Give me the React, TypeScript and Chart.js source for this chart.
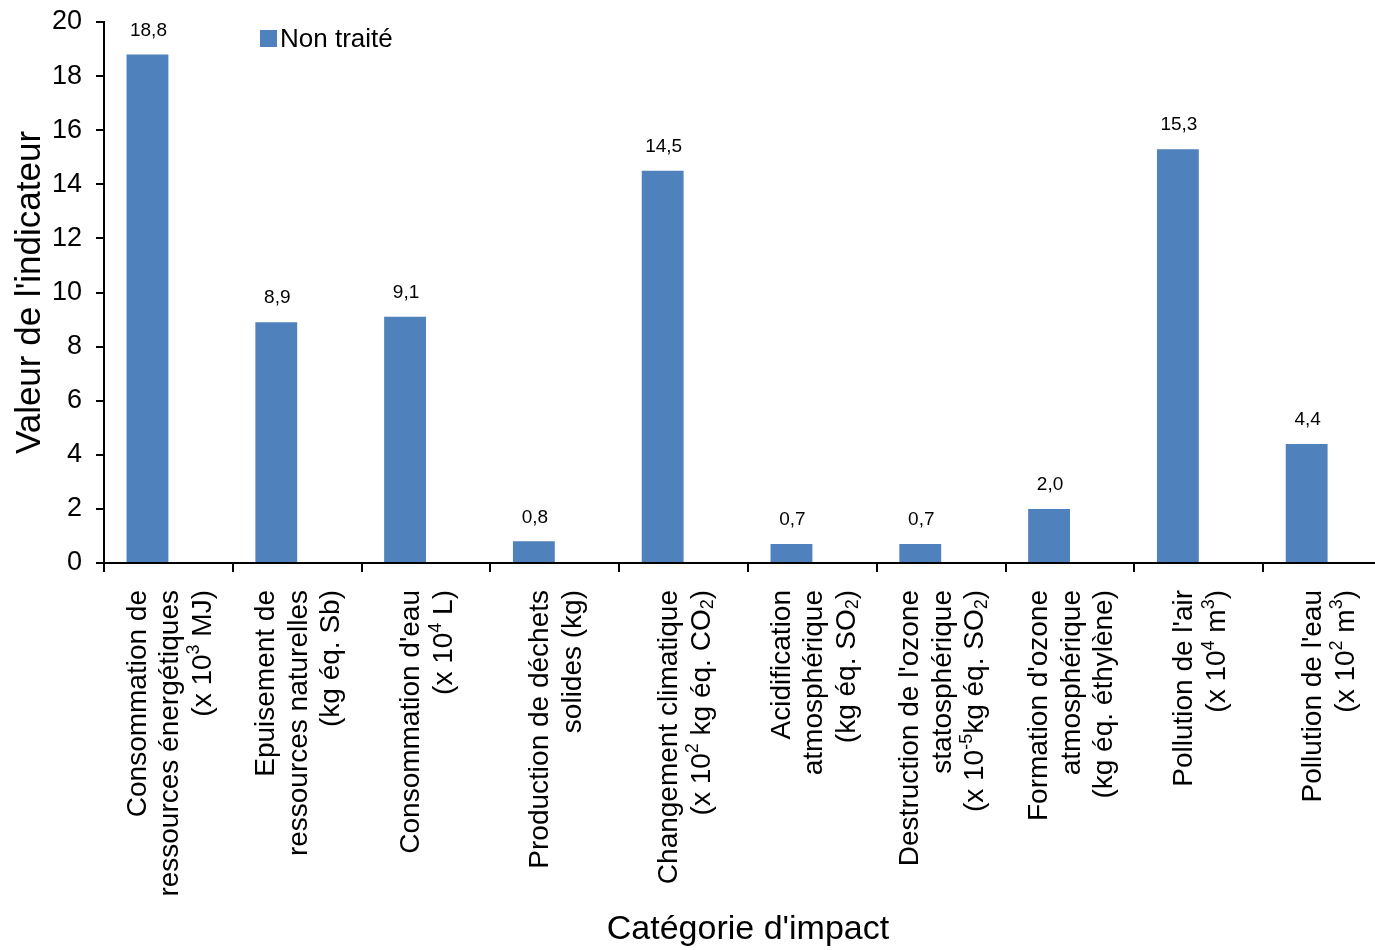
import { useEffect, useRef } from 'react';
import { Chart, registerables } from 'chart.js';

Chart.register(...registerables);

// Impact categories, one entry per bar; each entry lists the label lines.
// "^{..}" marks superscript text, "_{..}" marks subscript text.
const categoryLines: string[][] = [
  ['Consommation de', 'ressources énergétiques', '(x 10^{3} MJ)'],
  ['Epuisement de', 'ressources naturelles', '(kg éq. Sb)'],
  ["Consommation d'eau", '(x 10^{4} L)'],
  ['Production de déchets', 'solides (kg)'],
  ['Changement climatique', '(x 10^{2} kg éq. CO_{2})'],
  ['Acidification', 'atmosphérique', '(kg éq. SO_{2})'],
  ["Destruction de l'ozone", 'statosphérique', '(x 10^{-5}kg éq. SO_{2})'],
  ["Formation d'ozone", 'atmosphérique', '(kg éq. éthylène)'],
  ["Pollution de l'air", '(x 10^{4} m^{3})'],
  ["Pollution de l'eau", '(x 10^{2} m^{3})'],
];

const untreatedValues: number[] = [18.8, 8.9, 9.1, 0.8, 14.5, 0.7, 0.7, 2.0, 15.3, 4.4];
const seriesLabel = 'Non traité';
const yMin = 0;
const yMax = 20;
const yStep = 2;
const xTitle = "Catégorie d'impact";
const yTitle = "Valeur de l'indicateur";

const FONT = "'Liberation Sans', Arial, sans-serif";
const BAR_COLOR = '#4F81BD';

type Seg = { text: string; shift: number };

function parseRich(s: string): Seg[] {
  const out: Seg[] = [];
  const re = /([\^_])\{([^}]*)\}/g;
  let last = 0;
  let m: RegExpExecArray | null;
  while ((m = re.exec(s))) {
    if (m.index > last) out.push({ text: s.slice(last, m.index), shift: 0 });
    out.push({ text: m[2], shift: m[1] === '^' ? 1 : -1 });
    last = re.lastIndex;
  }
  if (last < s.length) out.push({ text: s.slice(last), shift: 0 });
  return out;
}

// Rotated, multi-line category labels with super/subscripts under the x axis
const categoryLabelsPlugin = {
  id: 'categoryLabels',
  afterDraw(chart: any) {
    const ctx: CanvasRenderingContext2D = chart.ctx;
    const xs = chart.scales.x;
    const size = 28;
    const small = 18;
    const lineGap = 32.5;
    const topY = xs.top + 27;
    ctx.save();
    ctx.fillStyle = '#000';
    ctx.textBaseline = 'middle';
    ctx.textAlign = 'left';
    categoryLines.forEach((lines, i) => {
      const cx = xs.getPixelForValue(i) + 2;
      lines.forEach((line, j) => {
        const lx = cx + (j - (lines.length - 1) / 2) * lineGap;
        const segs = parseRich(line);
        const widths = segs.map((sg) => {
          ctx.font = `${sg.shift ? small : size}px ${FONT}`;
          return ctx.measureText(sg.text).width;
        });
        const total = widths.reduce((a, b) => a + b, 0);
        ctx.save();
        ctx.translate(lx, topY);
        ctx.rotate(-Math.PI / 2);
        let pos = -total;
        segs.forEach((sg, k) => {
          ctx.font = `${sg.shift ? small : size}px ${FONT}`;
          const dy = sg.shift === 1 ? -size * 0.3 : sg.shift === -1 ? size * 0.22 : 0;
          ctx.fillText(sg.text, pos, dy);
          pos += widths[k];
        });
        ctx.restore();
      });
    });
    ctx.restore();
  },
};

// Value labels above bars and the series key inside the plot
const valueLabelsPlugin = {
  id: 'valueLabels',
  afterDatasetsDraw(chart: any) {
    const ctx: CanvasRenderingContext2D = chart.ctx;
    const meta = chart.getDatasetMeta(0);
    ctx.save();
    ctx.fillStyle = '#000';
    ctx.font = `19px ${FONT}`;
    ctx.textAlign = 'center';
    ctx.textBaseline = 'middle';
    meta.data.forEach((el: any, i: number) => {
      const v = untreatedValues[i];
      ctx.fillText(v.toFixed(1).replace('.', ','), el.x + 1, el.y - 24);
    });

    const area = chart.chartArea;
    const kx = area.left + 156;
    const ky = 30;
    ctx.fillStyle = BAR_COLOR;
    ctx.fillRect(kx, ky, 17, 17);
    ctx.fillStyle = '#000';
    ctx.font = `26px ${FONT}`;
    ctx.textAlign = 'left';
    ctx.fillText(seriesLabel, kx + 20, ky + 10);
    ctx.restore();
  },
};

function ImpactChart() {
  const canvasRef = useRef<HTMLCanvasElement | null>(null);

  useEffect(() => {
    if (!canvasRef.current) return;
    Chart.defaults.font.family = FONT;
    Chart.defaults.color = '#000';
    const chart = new Chart(canvasRef.current, {
      type: 'bar',
      data: {
        labels: categoryLines.map((l) => l.join(' ')),
        datasets: [
          {
            label: seriesLabel,
            data: untreatedValues,
            backgroundColor: BAR_COLOR,
            borderWidth: 0,
            categoryPercentage: 0.65,
            barPercentage: 1,
          },
          {
            label: '',
            data: untreatedValues.map(() => null),
            backgroundColor: 'transparent',
            categoryPercentage: 0.65,
            barPercentage: 1,
          },
        ],
      },
      plugins: [categoryLabelsPlugin, valueLabelsPlugin],
      options: {
        responsive: false,
        animation: false,
        devicePixelRatio: 1,
        layout: { padding: { top: 22, right: 8, left: 0, bottom: 0 } },
        plugins: {
          legend: { display: false },
          tooltip: { enabled: false },
        },
        scales: {
          x: {
            offset: true,
            grid: {
              offset: true,
              drawOnChartArea: false,
              drawTicks: true,
              tickLength: 9,
              color: '#000',
              lineWidth: 2,
            },
            border: { display: true, color: '#000', width: 2 },
            ticks: { display: false },
            title: {
              display: true,
              text: xTitle,
              font: { size: 34, family: FONT },
              color: '#000',
              padding: { top: 4, bottom: 0 },
            },
            afterFit: (scale: any) => {
              scale.height = 387;
            },
          },
          y: {
            min: yMin,
            max: yMax,
            grid: {
              drawOnChartArea: false,
              drawTicks: true,
              tickLength: 8,
              color: '#000',
              lineWidth: 2,
            },
            border: { display: true, color: '#000', width: 2 },
            ticks: {
              stepSize: yStep,
              padding: 14,
              font: { size: 27, family: FONT },
              color: '#000',
            },
            title: {
              display: true,
              text: yTitle,
              font: { size: 35, family: FONT },
              color: '#000',
              padding: { top: 9, bottom: 4 },
            },
            afterFit: (scale: any) => {
              scale.width = 104;
              scale.paddingTop = 0;
              scale.paddingBottom = 0;
            },
          },
        },
      },
    });
    return () => chart.destroy();
  }, []);

  return <canvas ref={canvasRef} width={1400} height={950} style={{ display: 'block' }} />;
}

export default function App() {
  return (
    <div
      style={{
        position: 'absolute',
        left: 0,
        top: 0,
        width: 1375,
        height: 950,
        overflow: 'hidden',
        background: '#fff',
      }}
    >
      <ImpactChart />
    </div>
  );
}
